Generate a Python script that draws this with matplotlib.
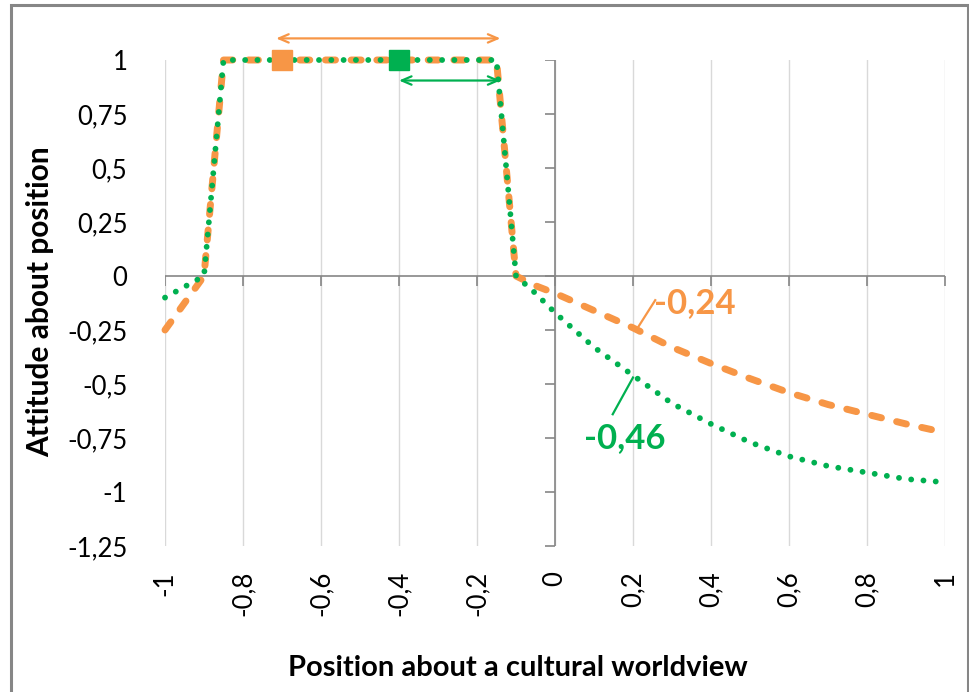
import matplotlib
matplotlib.use("Agg")
import matplotlib.pyplot as plt
from matplotlib.patches import Rectangle

plt.rcParams['font.family'] = ['Lato', 'DejaVu Sans']

# ---- data ----
x_vals = [-1.0, -0.9, -0.85, -0.15, -0.1, -0.05, 0.0, 0.1, 0.2, 0.3, 0.4, 0.5, 0.6, 0.7, 0.8, 0.9, 1.0]
orange_vals = [-0.25, 0.0, 1.0, 1.0, 0.0, -0.045, -0.08, -0.16, -0.24, -0.33, -0.405, -0.475, -0.54, -0.595, -0.64, -0.685, -0.725]
green_vals = [-0.10, 0.0, 1.0, 1.0, 0.0, -0.08, -0.17, -0.33, -0.46, -0.59, -0.685, -0.77, -0.835, -0.88, -0.91, -0.94, -0.955]

x_ticks = [-1, -0.8, -0.6, -0.4, -0.2, 0, 0.2, 0.4, 0.6, 0.8, 1]
x_tick_labels = ["-1", "-0,8", "-0,6", "-0,4", "-0,2", "0", "0,2", "0,4", "0,6", "0,8", "1"]
y_ticks = [1, 0.75, 0.5, 0.25, 0, -0.25, -0.5, -0.75, -1, -1.25]
y_tick_labels = ["1", "0,75", "0,5", "0,25", "0", "-0,25", "-0,5", "-0,75", "-1", "-1,25"]

orange_marker = (-0.7, 1.0)
green_marker = (-0.4, 1.0)
orange_range = (-0.715, -0.14, 1.10)
green_range = (-0.4, -0.14, 0.905)

label_orange = "-0,24"
label_green = "-0,46"
x_label = "Position about a cultural worldview"
y_label = "Attitude about position"

ORANGE = "#F79646"
GREEN = "#00B050"

fig = plt.figure(figsize=(9.70, 6.92), dpi=100)
ax = fig.add_axes([165/970, 1-546/692, 780/970, 486/692])
ax.set_xlim(-1, 1)
ax.set_ylim(-1.25, 1)

for s in ax.spines.values():
    s.set_visible(False)

# vertical gridlines
for xt in x_ticks:
    ax.axvline(xt, color="#d9d9d9", lw=1.0, zorder=0)

# axis lines crossing at zero
ax.axhline(0, color="#868686", lw=1.2, zorder=1)
ax.axvline(0, color="#868686", lw=1.2, zorder=1)
ax.plot(x_ticks, [0]*len(x_ticks), ls='none', marker=3, markersize=7,
        markeredgecolor="#868686", markeredgewidth=1.2, zorder=1)
ax.plot([0]*len(y_ticks), y_ticks, ls='none', marker=0, markersize=7,
        markeredgecolor="#868686", markeredgewidth=1.2, zorder=1)

ax.set_xticks(x_ticks)
ax.set_xticklabels(x_tick_labels, rotation=90, fontsize=18.5)
ax.set_yticks(y_ticks)
ax.set_yticklabels(y_tick_labels, fontsize=18.5)
ax.tick_params(axis='x', length=0, pad=18)
ax.tick_params(axis='y', length=0, pad=27)

# series
ax.plot(x_vals, orange_vals, color=ORANGE, lw=5, ls=(0, (1.45, 2.25)),
        dash_capstyle='round', solid_joinstyle='round', clip_on=False, zorder=3)
ax.plot(x_vals, green_vals, color=GREEN, lw=4.2, ls=(0, (0.01, 2.1)),
        dash_capstyle='round', clip_on=False, zorder=4)

# markers
ax.plot([orange_marker[0]], [orange_marker[1]], marker='s', markersize=15,
        color=ORANGE, ls='none', clip_on=False, zorder=5)
ax.plot([green_marker[0]], [green_marker[1]], marker='s', markersize=15,
        color=GREEN, ls='none', clip_on=False, zorder=5)

# range arrows
ax.annotate('', xy=(orange_range[1], orange_range[2]), xytext=(orange_range[0], orange_range[2]),
            arrowprops=dict(arrowstyle='<->,head_length=0.7,head_width=0.3', color=ORANGE, lw=1.6,
                            shrinkA=0, shrinkB=0), annotation_clip=False)
ax.annotate('', xy=(green_range[1], green_range[2]), xytext=(green_range[0], green_range[2]),
            arrowprops=dict(arrowstyle='<->,head_length=0.7,head_width=0.3', color=GREEN, lw=1.6,
                            shrinkA=0, shrinkB=0), annotation_clip=False)

# value labels with leaders
ax.plot([0.2, 0.212, 0.257], [-0.24, -0.24, -0.112], color=ORANGE, lw=1.6, zorder=6)
ax.text(0.255, -0.125, label_orange, color=ORANGE, fontsize=25, fontweight='bold',
        ha='left', va='center', zorder=6)
ax.plot([0.2, 0.148], [-0.47, -0.64], color=GREEN, lw=1.6, zorder=6)
ax.text(0.18, -0.75, label_green, color=GREEN, fontsize=25, fontweight='bold',
        ha='center', va='center', zorder=6)

# axis titles
fig.text(518/970, 1-668/692, x_label, fontsize=21, fontweight='bold', ha='center', va='center')
fig.text(40/970, 1-302/692, y_label, fontsize=21.5, fontweight='bold', ha='center', va='center',
         rotation=90)

# figure border
fig.patches.append(Rectangle((11/970, -0.02), (968-11)/970, 1.02 - 5/692, transform=fig.transFigure,
                             fill=False, edgecolor="#868686", lw=2.2))

fig.savefig("out.png", dpi=100)
